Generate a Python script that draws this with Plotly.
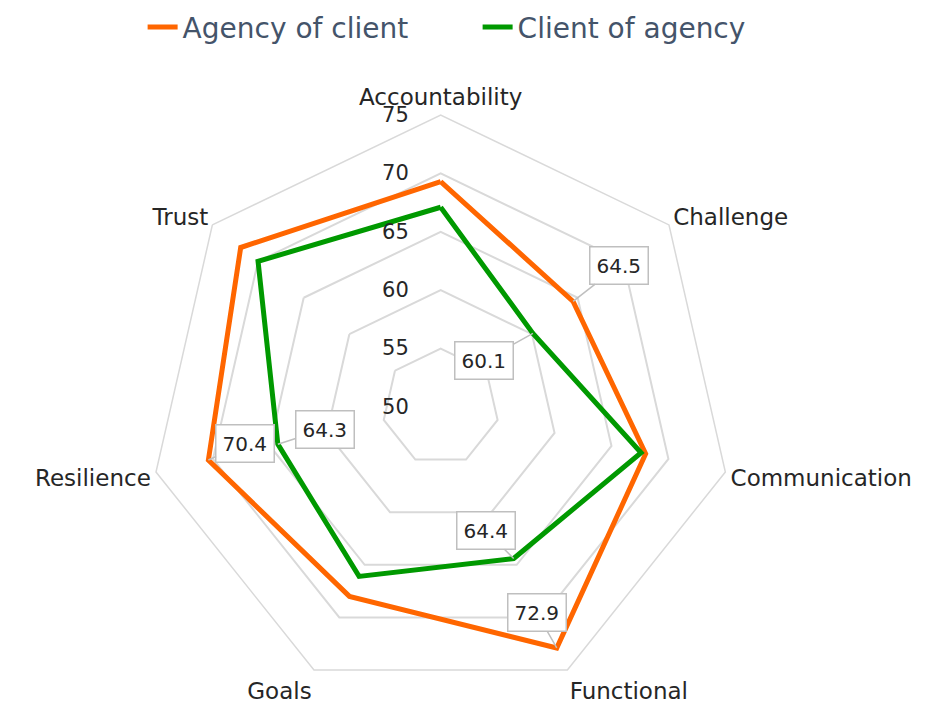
import plotly.graph_objects as go
import math

categories = ['Accountability', 'Challenge', 'Communication', 'Functional', 'Goals', 'Resilience', 'Trust']
agency_of_client = [69.3, 64.5, 68.0, 72.9, 68.0, 70.4, 71.9]
client_of_agency = [67.1, 60.1, 67.6, 64.4, 66.1, 64.3, 70.0]

# data labels shown only for some points (None = no label)
agency_labels = [None, 64.5, None, 72.9, None, 70.4, None]
client_labels = [None, 60.1, None, 64.4, None, 64.3, None]

R_MIN, R_MAX = 50, 75
# page body keeps its 8px margin, so the figure is 16px smaller than the window
W, H = 911, 697

# polar domain (paper)
dom_x = [0.1544, 0.7955]
dom_y = [0.0086, 0.8465]

# label box offsets (pixels) from the data point
agency_offsets = {1: (46, -36), 3: (-20, -35), 5: (37, -17)}
client_offsets = {1: (-49, 27), 3: (-28, -28), 5: (47, -15)}

ORANGE = '#FF6600'
GREEN = '#009900'
GRID = '#D9D9D9'
TEXT = '#262626'
FONT = 'DejaVu Sans'


def to_paper(value, idx):
    # where plotly puts a radar point, in paper coords (margins are 0)
    wpx = (dom_x[1] - dom_x[0]) * W
    hpx = (dom_y[1] - dom_y[0]) * H
    radius = min(wpx, hpx) / 2
    cx = (dom_x[0] + dom_x[1]) / 2 * W
    cy = H - (dom_y[0] + dom_y[1]) / 2 * H
    r = (value - R_MIN) / (R_MAX - R_MIN) * radius
    ang = math.radians(90 - idx * 360 / len(categories))
    px = cx + r * math.cos(ang)
    py = cy - r * math.sin(ang)
    return px / W, 1 - py / H


fig = go.Figure()

fig.add_trace(go.Scatterpolar(
    name='Agency of client',
    r=agency_of_client + [agency_of_client[0]],
    theta=categories + [categories[0]],
    mode='lines',
    line=dict(color=ORANGE, width=5)
))

fig.add_trace(go.Scatterpolar(
    name='Client of agency',
    r=client_of_agency + [client_of_agency[0]],
    theta=categories + [categories[0]],
    mode='lines',
    line=dict(color=GREEN, width=5)
))

annotations = []
for values, labels, offsets in [(agency_of_client, agency_labels, agency_offsets),
                                (client_of_agency, client_labels, client_offsets)]:
    for i, lab in enumerate(labels):
        if lab is None:
            continue
        x, y = to_paper(values[i], i)
        ax, ay = offsets[i]
        annotations.append(dict(
            x=x, y=y, xref='paper', yref='paper',
            text=f'{lab:.1f}',
            showarrow=True, arrowhead=0, arrowwidth=1.5, arrowcolor='#BFBFBF',
            ax=ax, ay=ay, standoff=0,
            bgcolor='white', bordercolor='#BFBFBF', borderwidth=1.5, borderpad=6,
            font=dict(family=FONT, size=20, color=TEXT)
        ))

fig.update_layout(
    width=W, height=H,
    margin=dict(l=0, r=0, t=0, b=0, autoexpand=False),
    paper_bgcolor='white',
    font=dict(family=FONT, color=TEXT),
    polar=dict(
        domain=dict(x=dom_x, y=dom_y),
        gridshape='linear',
        bgcolor='white',
        angularaxis=dict(
            direction='clockwise', rotation=90,
            showgrid=False, showline=True, linecolor=GRID, linewidth=1.5,
            ticks='', tickfont=dict(size=23, color=TEXT)
        ),
        radialaxis=dict(
            range=[R_MIN, R_MAX], tick0=50, dtick=5,
            showline=False, angle=90, side='counterclockwise',
            ticks='outside', ticklen=24, tickcolor='rgba(0,0,0,0)',
            tickangle=90,
            gridcolor=GRID, gridwidth=1.5,
            tickfont=dict(size=21, color=TEXT)
        )
    ),
    legend=dict(
        orientation='h', x=0.5155, xanchor='center', y=1.008, yanchor='top',
        font=dict(size=28, color='#44546A'),
        entrywidth=290
    ),
    annotations=annotations
)

fig.write_html("out.html")
